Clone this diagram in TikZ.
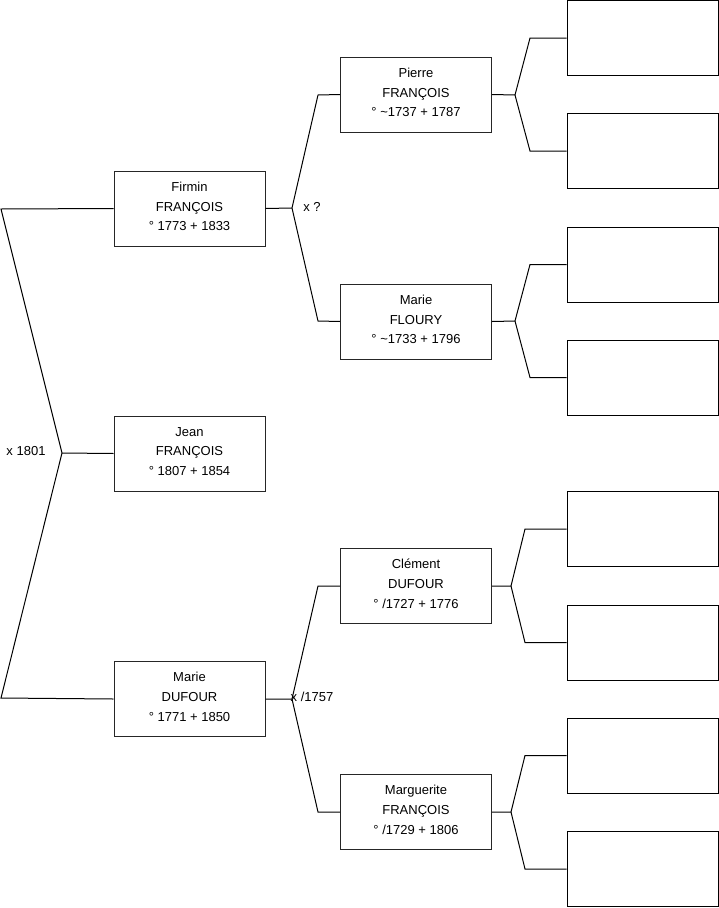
\documentclass[tikz,border=0pt]{standalone}
\usepackage{fontspec}
\setmainfont{Liberation Sans}
\begin{document}
\begin{tikzpicture}[x=1pt,y=-1pt,
  person/.style={draw=black!85,line width=1pt,minimum width=151pt,minimum height=75pt,inner sep=0pt,align=center,font=\fontsize{13}{19.8}\selectfont},
  emptybox/.style={draw=black,line width=1pt,minimum width=151pt,minimum height=75pt,inner sep=0pt},
  txt/.style={align=center,inner sep=0pt,font=\fontsize{13}{19.8}\selectfont},
  conn/.style={draw=black,line width=1pt},
  lbl/.style={font=\fontsize{13}{15}\selectfont,inner sep=0pt}]
\useasboundingbox (0,0) rectangle (719,908);
% persons
\node[person] (firmin) at (189.5,208.5) {};
\node[person] (jean) at (189.5,453.5) {};
\node[person] (marie) at (189.5,699) {};
\node[person] (pierre) at (416,94.5) {};
\node[person] (floury) at (416,321.5) {};
\node[person] (clement) at (416,586) {};
\node[person] (marguerite) at (416,812) {};
\node[txt] (tfirmin) at ([yshift=2pt]firmin.center) {Firmin\\FRANÇOIS\\° 1773 + 1833};
\node[txt] (tjean) at ([yshift=2pt]jean.center) {Jean\\FRANÇOIS\\° 1807 + 1854};
\node[txt] (tmarie) at ([yshift=2pt]marie.center) {Marie\\DUFOUR\\° 1771 + 1850};
\node[txt] (tpierre) at ([yshift=2pt]pierre.center) {Pierre\\FRANÇOIS\\° \textasciitilde1737 + 1787};
\node[txt] (tfloury) at ([yshift=2pt]floury.center) {Marie\\FLOURY\\° \textasciitilde1733 + 1796};
\node[txt] (tclement) at ([yshift=2pt]clement.center) {Clément\\DUFOUR\\° /1727 + 1776};
\node[txt] (tmarguerite) at ([yshift=2pt]marguerite.center) {Marguerite\\FRANÇOIS\\° /1729 + 1806};
% empty boxes
\node[emptybox] (e1) at (642.5,38) {};
\node[emptybox] (e2) at (642.5,151) {};
\node[emptybox] (e3) at (642.5,264.5) {};
\node[emptybox] (e4) at (642.5,377.5) {};
\node[emptybox] (e5) at (642.5,529) {};
\node[emptybox] (e6) at (642.5,642.5) {};
\node[emptybox] (e7) at (642.5,755.5) {};
\node[emptybox] (e8) at (642.5,869) {};
% coordinates
\coordinate (a0) at (1,209);
\coordinate (a1) at (62,453);
\coordinate (a2) at (1,698);
\coordinate (b1) at (292,208);
\coordinate (b0) at (318,95);
\coordinate (b2) at (318,321);
\coordinate (c1) at (292,699);
\coordinate (c0) at (318,586);
\coordinate (c2) at (318,812);
\coordinate (d1) at (515,95);
\coordinate (d0) at (530,38);
\coordinate (d2) at (530,151);
\coordinate (f1) at (515,321);
\coordinate (f0) at (530,264.5);
\coordinate (f2) at (530,377.5);
\coordinate (g1) at (511,586);
\coordinate (g0) at (525,529);
\coordinate (g2) at (525,642.5);
\coordinate (h1) at (511,812);
\coordinate (h0) at (525,755.5);
\coordinate (h2) at (525,869);
% connectors
\draw[conn] (firmin.west) -- (a0) -- (a1) -- (a2) -- (marie.west);
\draw[conn] (a1) -- (jean.west);
\draw[conn] (firmin.east) -- (b1) -- (b0) -- (pierre.west);
\draw[conn] (b1) -- (b2) -- (floury.west);
\draw[conn] (marie.east) -- (c1) -- (c0) -- (clement.west);
\draw[conn] (c1) -- (c2) -- (marguerite.west);
\draw[conn] (pierre.east) -- (d1) -- (d0) -- (e1.west);
\draw[conn] (d1) -- (d2) -- (e2.west);
\draw[conn] (floury.east) -- (f1) -- (f0) -- (e3.west);
\draw[conn] (f1) -- (f2) -- (e4.west);
\draw[conn] (clement.east) -- (g1) -- (g0) -- (e5.west);
\draw[conn] (g1) -- (g2) -- (e6.west);
\draw[conn] (marguerite.east) -- (h1) -- (h0) -- (e7.west);
\draw[conn] (h1) -- (h2) -- (e8.west);
% marriage labels
\node[lbl] (m1) at (26,451) {x 1801};
\node[lbl] (m2) at (312,207) {x ?};
\node[lbl,anchor=west] (m3) at (290.5,697) {x /1757};
\end{tikzpicture}
\end{document}
